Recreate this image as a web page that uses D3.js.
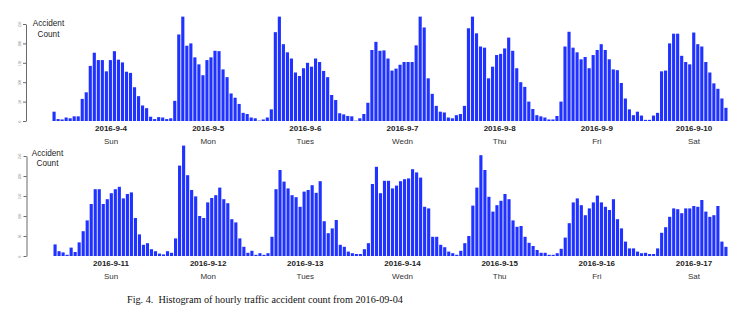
<!DOCTYPE html>
<html>
<head>
<meta charset="utf-8">
<script src="https://cdn.jsdelivr.net/npm/d3@7/dist/d3.min.js"></script>
<style>
  html, body { margin: 0; padding: 0; background: #fff; }
  svg { display: block; }
</style>
</head>
<body>
<svg id="chart" width="740" height="322"></svg>
<script>
// Hourly accident counts, 24 values per day
const week1Dates = ["2016-9-4", "2016-9-5", "2016-9-6", "2016-9-7", "2016-9-8", "2016-9-9", "2016-9-10"];
const week2Dates = ["2016-9-11", "2016-9-12", "2016-9-13", "2016-9-14", "2016-9-15", "2016-9-16", "2016-9-17"];
const weekdays = ["Sun", "Mon", "Tues", "Wedn", "Thu", "Fri", "Sat"];
const yTicks = [0, 50, 100, 150, 200, 250];

const week1Counts = [
  [24, 5, 4, 9, 7, 12, 12, 57, 74, 142, 176, 157, 157, 128, 157, 180, 158, 151, 127, 124, 87, 64, 40, 33],
  [11, 5, 10, 9, 5, 7, 52, 223, 269, 194, 200, 164, 146, 118, 157, 164, 181, 180, 133, 113, 71, 60, 44, 21],
  [18, 9, 7, 1, 4, 9, 30, 229, 269, 198, 177, 161, 125, 116, 136, 150, 140, 161, 152, 129, 113, 67, 54, 20],
  [17, 13, 12, 1, 7, 18, 47, 183, 204, 181, 182, 161, 130, 135, 145, 152, 152, 152, 195, 269, 241, 110, 70, 39],
  [24, 22, 9, 7, 15, 18, 39, 239, 269, 226, 192, 189, 110, 140, 170, 173, 187, 215, 181, 136, 100, 88, 50, 31],
  [15, 12, 9, 4, 4, 13, 50, 192, 230, 189, 177, 159, 165, 136, 170, 183, 198, 183, 159, 133, 131, 98, 58, 30],
  [15, 24, 14, 3, 3, 14, 21, 128, 130, 200, 225, 225, 168, 152, 146, 228, 198, 192, 152, 125, 97, 83, 58, 34]
];

const week2Counts = [
  [29, 12, 9, 3, 21, 10, 34, 62, 89, 130, 167, 167, 130, 142, 157, 167, 173, 144, 155, 159, 95, 54, 28, 32],
  [17, 12, 6, 4, 12, 8, 44, 226, 276, 202, 165, 149, 100, 95, 134, 145, 152, 171, 142, 132, 92, 84, 44, 23],
  [8, 13, 3, 7, 3, 7, 48, 167, 215, 186, 169, 152, 147, 123, 161, 165, 177, 158, 187, 87, 57, 69, 90, 28],
  [23, 11, 7, 5, 5, 17, 32, 180, 223, 157, 188, 188, 169, 176, 187, 192, 194, 217, 209, 196, 123, 119, 48, 48],
  [28, 22, 11, 7, 3, 13, 32, 50, 126, 171, 252, 215, 148, 111, 127, 138, 155, 142, 89, 73, 75, 48, 33, 25],
  [15, 8, 8, 3, 3, 7, 18, 46, 82, 134, 144, 127, 102, 119, 134, 151, 134, 123, 115, 142, 92, 69, 36, 19],
  [19, 11, 7, 8, 5, 5, 19, 58, 72, 98, 119, 117, 107, 119, 119, 125, 123, 140, 111, 98, 102, 125, 36, 23]
];

const svg = d3.select("#chart");
const barColor = "#1f32ff";
const sans = "Liberation Sans, Arial, Helvetica, sans-serif";

function drawRow(counts, dates, opts) {
  const values = counts.flat();
  const g = svg.append("g");

  const x = d3.scaleBand()
    .domain(d3.range(values.length))
    .range([opts.x0, opts.x1])
    .paddingInner(0.22)
    .paddingOuter(0);

  const y = d3.scaleLinear()
    .domain([0, 250])
    .range([opts.base, opts.top]);

  // bars
  g.selectAll("rect.bar")
    .data(values)
    .join("rect")
    .attr("class", "bar")
    .attr("x", (d, i) => x(i))
    .attr("width", x.bandwidth())
    .attr("y", d => y(d))
    .attr("height", d => y(0) - y(d))
    .attr("fill", barColor);

  // y axis
  const axis = d3.axisLeft(y).tickValues(yTicks).tickSize(3).tickSizeOuter(0).tickPadding(2);
  const ag = g.append("g")
    .attr("transform", `translate(${opts.axisX},0)`)
    .call(axis);
  ag.select(".domain").attr("stroke", "#444").attr("stroke-width", 0.8);
  ag.selectAll(".tick line").attr("stroke", "#444").attr("stroke-width", 0.8);
  ag.selectAll(".tick text")
    .attr("font-family", sans)
    .attr("font-size", 3.2)
    .attr("fill", "#999")
    .attr("text-anchor", "middle")
    .attr("dy", 0)
    .attr("x", 0)
    .attr("transform", "translate(-5.5,0) rotate(-90)");

  // axis title
  g.append("text")
    .attr("x", opts.titleX).attr("y", opts.titleY)
    .attr("text-anchor", "middle")
    .attr("font-family", sans).attr("font-size", 8.2).attr("fill", "#222")
    .text("Accident");
  g.append("text")
    .attr("x", opts.titleX).attr("y", opts.titleY + 10.5)
    .attr("text-anchor", "middle")
    .attr("font-family", sans).attr("font-size", 8.2).attr("fill", "#222")
    .text("Count");

  // day labels
  const lx = d3.scalePoint().domain(dates).range([opts.lab0, opts.lab1]);
  g.selectAll("text.date")
    .data(dates)
    .join("text")
    .attr("class", "date")
    .attr("x", d => lx(d))
    .attr("y", opts.dateY)
    .attr("text-anchor", "middle")
    .attr("font-family", sans).attr("font-size", 8).attr("font-weight", "bold").attr("fill", "#222")
    .text(d => d);
  g.selectAll("text.wd")
    .data(dates)
    .join("text")
    .attr("class", "wd")
    .attr("x", d => lx(d))
    .attr("y", opts.dateY + 12.5)
    .attr("text-anchor", "middle")
    .attr("font-family", sans).attr("font-size", 8).attr("fill", "#333")
    .text((d, i) => weekdays[i]);
}

drawRow(week1Counts, week1Dates, {
  x0: 52.5, x1: 727.5, base: 121, top: 24, axisX: 26,
  titleX: 48.5, titleY: 26, lab0: 111, lab1: 694, dateY: 131
});

drawRow(week2Counts, week2Dates, {
  x0: 53.5, x1: 727.5, base: 256, top: 156, axisX: 26.5,
  titleX: 47.5, titleY: 155.5, lab0: 111, lab1: 694, dateY: 266
});

svg.append("text")
  .attr("x", 127).attr("y", 303)
  .attr("font-family", "Liberation Serif, Times New Roman, serif")
  .attr("font-size", 10.2).attr("fill", "#111")
  .attr("xml:space", "preserve")
  .text("Fig. 4.  Histogram of hourly traffic accident count from 2016-09-04");
</script>
</body>
</html>
